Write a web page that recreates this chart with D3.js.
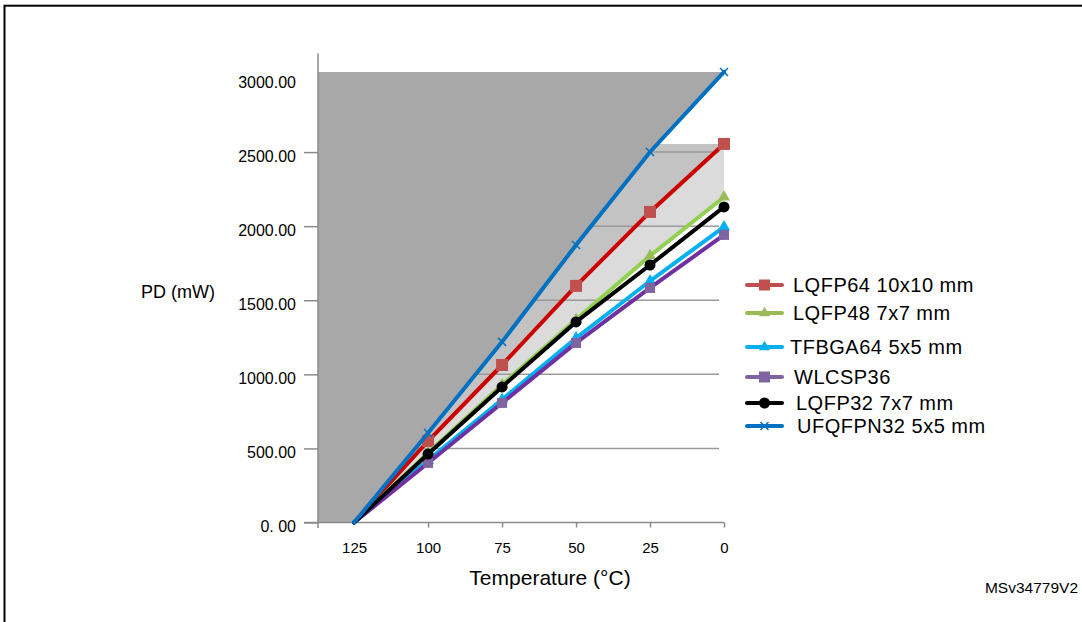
<!DOCTYPE html>
<html>
<head>
<meta charset="utf-8">
<title>PD vs temperature per package</title>
<script src="https://d3js.org/d3.v7.min.js"></script>
<style>
  body { margin: 0; background: #fff; }
  svg text { font-family: "Liberation Sans", Arial, sans-serif; fill: #000; }
</style>
</head>
<body>
<svg id="chart"></svg>
<script>
// ambient temperature (deg C), x axis runs backwards
var temps = [125, 100, 75, 50, 25, 0];
var xTickLabels = ["125", "100", "75", "50", "25", "0"];

var packages = ["LQFP64 10x10 mm", "LQFP48 7x7 mm", "TFBGA64 5x5 mm", "WLCSP36", "LQFP32 7x7 mm", "UFQFPN32 5x5 mm"];

// max power dissipation PD (mW) read at each temperature
var pdLQFP64   = [0, 550, 1063, 1597, 2096, 2555];
var pdLQFP48   = [0, 470, 930, 1370, 1800, 2197];
var pdTFBGA64  = [0, 420, 830, 1245, 1630, 1995];
var pdWLCSP36  = [0, 402, 807, 1212, 1583, 1941];
var pdLQFP32   = [0, 462, 915, 1354, 1738, 2130];
var pdUFQFPN32 = [0, 604, 1219, 1873, 2501, 3041];

var yTicks = [0, 500, 1000, 1500, 2000, 2500, 3000];
var yTickLabels = ["0. 00", "500.00", "1000.00", "1500.00", "2000.00", "2500.00", "3000.00"];

var series = [pdLQFP64, pdLQFP48, pdTFBGA64, pdWLCSP36, pdLQFP32, pdUFQFPN32].map(function(v, i) {
  return { name: packages[i], values: v };
});

// look of each series (same order as packages)
var styles = [
  { line: "#cc0000", mark: "#c0504d", key: "#c0504d", shape: "square",   size: 12 },
  { line: "#92d050", mark: "#9bbb59", key: "#9bbb59", shape: "triangle", size: 12 },
  { line: "#00b0f0", mark: "#00b0f0", key: "#00b0f0", shape: "triangle", size: 12 },
  { line: "#7030a0", mark: "#8064a2", key: "#8064a2", shape: "square",   size: 10 },
  { line: "#000000", mark: "#000000", key: "#000000", shape: "circle",   size: 11 },
  { line: "#0070c0", mark: "#0070c0", key: "#0070c0", shape: "x",        size: 8 }
];

var W = 1082, H = 622;
var svg = d3.select("#chart").attr("width", W).attr("height", H);

svg.append("rect").attr("width", W).attr("height", H).attr("fill", "#fff");
// frame of the figure
svg.append("rect")
   .attr("x", 4.5).attr("y", 5.7).attr("width", W + 10).attr("height", H + 10)
   .attr("fill", "none").attr("stroke", "#000").attr("stroke-width", 2);

var tLeft = 137.2;
var x = d3.scaleLinear().domain([tLeft, 0]).range([318, 724]);
var y = d3.scaleLinear().domain([0, 3000]).range([522.5, 78]);

var line = d3.line().x(function(d) { return x(d[0]); }).y(function(d) { return y(d[1]); });

function pts(vals) {
  return temps.map(function(t, i) { return [t, vals[i]]; });
}

// shaded regions: area left of a package line, capped at a given package's max
function region(vals, cap) {
  var p = [[tLeft, cap], [0, cap]];
  var s = pts(vals).slice().reverse(); // from 0 to 125
  p = p.concat(s);
  p.push([tLeft, 0]);
  return line(p) + "Z";
}

var maxLQFP64 = d3.max(pdLQFP64);
var maxUFQFPN32 = d3.max(pdUFQFPN32);

svg.append("path").attr("d", region(pdLQFP48, maxLQFP64)).attr("fill", "#dbdbdb");
svg.append("path").attr("d", region(pdLQFP64, maxLQFP64)).attr("fill", "#c3c3c3");

// gridlines
svg.append("g").selectAll("line")
   .data(yTicks.slice(1))
   .enter().append("line")
   .attr("x1", 318).attr("x2", 719)
   .attr("y1", function(d) { return y(d); })
   .attr("y2", function(d) { return y(d); })
   .attr("stroke", "#9a9a9a").attr("stroke-width", 1.5);

svg.append("path").attr("d", region(pdUFQFPN32, maxUFQFPN32)).attr("fill", "#a8a8a8");

// y axis
var yAxis = svg.append("g")
   .attr("transform", "translate(318,0)")
   .call(d3.axisLeft(y).tickValues(yTicks).tickSize(14).tickPadding(8)
          .tickFormat(function(d, i) { return yTickLabels[i]; }));
yAxis.select(".domain").remove();
yAxis.selectAll(".tick line").attr("stroke", "#8a8a8a").attr("stroke-width", 1.5)
     .filter(function(d) { return d === 3000; }).remove();
yAxis.selectAll(".tick text").attr("y", 4).style("font-size", "16px")
     .style("font-family", "'Liberation Sans', Arial, sans-serif");
svg.append("line")
   .attr("x1", 318).attr("x2", 318).attr("y1", y(3165)).attr("y2", 528)
   .attr("stroke", "#8a8a8a").attr("stroke-width", 1.5);

// x axis
var xAxis = svg.append("g")
   .attr("transform", "translate(0," + y(0) + ")")
   .call(d3.axisBottom(x).tickValues(temps).tickSize(5).tickPadding(15)
          .tickFormat(function(d, i) { return xTickLabels[i]; }));
xAxis.select(".domain").remove();
xAxis.selectAll(".tick line").attr("stroke", "#8a8a8a").attr("stroke-width", 1.5)
     .filter(function(d) { return d === 125; }).remove();
xAxis.selectAll(".tick text").style("font-size", "15px")
     .style("font-family", "'Liberation Sans', Arial, sans-serif");
svg.append("line")
   .attr("x1", 304).attr("x2", x(0)).attr("y1", y(0)).attr("y2", y(0))
   .attr("stroke", "#8a8a8a").attr("stroke-width", 1.5);

// marker drawing
function marker(g, st, cx, cy, s) {
  if (st.shape === "x") {
    var h = s / 2;
    g.append("path")
     .attr("d", "M" + (cx - h) + "," + (cy - h) + "L" + (cx + h) + "," + (cy + h) +
                "M" + (cx + h) + "," + (cy - h) + "L" + (cx - h) + "," + (cy + h))
     .attr("stroke", st.mark).attr("stroke-width", 1.5).attr("fill", "none");
    return;
  }
  var type = d3.symbolSquare, area = s * s;
  if (st.shape === "triangle") { type = d3.symbolTriangle; area = s * s * Math.sqrt(3) / 4; }
  if (st.shape === "circle") { type = d3.symbolCircle; area = Math.PI * s * s / 4; }
  g.append("path")
   .attr("d", d3.symbol().type(type).size(area)())
   .attr("transform", "translate(" + cx + "," + cy + ")")
   .attr("fill", st.mark);
}

// series lines + markers
series.forEach(function(sr, i) {
  var st = styles[i];
  var g = svg.append("g");
  g.append("path")
   .attr("d", line(pts(sr.values)))
   .attr("fill", "none").attr("stroke", st.line).attr("stroke-width", 4)
   .attr("stroke-linecap", "round");
  pts(sr.values).forEach(function(p) {
    if (p[0] === 125) return;
    marker(g, st, x(p[0]), y(p[1]), st.size);
  });
});

// axis titles
svg.append("text").attr("x", 141).attr("y", 298).style("font-size", "18px").text("PD (mW)");
svg.append("text").attr("x", 550).attr("y", 585).attr("text-anchor", "middle")
   .style("font-size", "21px").text("Temperature (\u00b0C)");
svg.append("text").attr("x", 1078).attr("y", 593).attr("text-anchor", "end")
   .style("font-size", "15.5px").text("MSv34779V2");

// legend
var legendY = [285, 313, 347, 377, 403, 426];
var legendTextX = [793, 793, 790, 794, 796, 797];
series.forEach(function(sr, i) {
  var st = styles[i];
  var g = svg.append("g");
  var ly = legendY[i];
  g.append("line").attr("x1", 747).attr("x2", 782).attr("y1", ly).attr("y2", ly)
   .attr("stroke", st.key).attr("stroke-width", 4).attr("stroke-linecap", "round");
  marker(g, { shape: st.shape, mark: st.key }, 764.5, ly, st.shape === "x" ? 8 : 11);
  g.append("text").attr("x", legendTextX[i]).attr("y", ly + 7)
   .style("font-size", "20px").style("letter-spacing", "0.5px").text(sr.name);
});
</script>
</body>
</html>
